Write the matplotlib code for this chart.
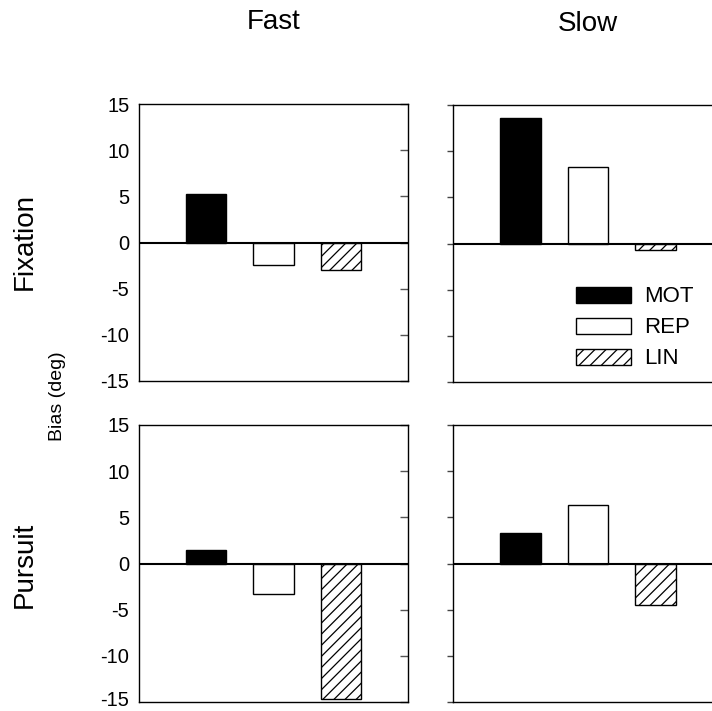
import matplotlib
matplotlib.use("Agg")
import matplotlib.pyplot as plt
import matplotlib.transforms as mtransforms

plt.rcParams["font.family"] = ["Liberation Sans", "DejaVu Sans"]
plt.rcParams["hatch.linewidth"] = 0.9

# bias (deg)
conditions = ["MOT", "REP", "LIN"]
fast_fixation = [5.25, -2.4, -2.95]
slow_fixation = [13.6, 8.3, -0.7]
fast_pursuit = [1.45, -3.35, -14.7]
slow_pursuit = [3.35, 6.3, -4.5]

col_titles = ["Fast", "Slow"]
row_titles = ["Fixation", "Pursuit"]
yticks = [-15, -10, -5, 0, 5, 10, 15]

fills = ["black", "white", "white"]
hatches = [None, None, "///"]


def draw_panel(ax, values, left_col):
    xs = range(1, len(values) + 1)
    bars = []
    for x, v, fc, h, lab in zip(xs, values, fills, hatches, conditions):
        b = ax.bar(x, v, width=0.6, color=fc, edgecolor="black",
                   linewidth=1.0, hatch=h, label=lab)
        bars.append(b)
    ax.axhline(0, color="black", linewidth=1.5, zorder=3)
    ax.set_xlim(0, 4)
    ax.set_ylim(-15, 15)
    ax.set_xticks([])
    ax.set_yticks(yticks)
    for s in ax.spines.values():
        s.set_linewidth(1.0)
    if left_col:
        ax.set_yticklabels([str(t) for t in yticks], fontsize=14.5)
        ax.tick_params(axis="y", left=False, right=True, direction="in",
                       length=6, width=1, color="#555555", pad=7)
    else:
        ax.set_yticklabels([])
        ax.tick_params(axis="y", left=True, direction="out",
                       length=4, width=1, color="#444444")
    return bars


fig = plt.figure(figsize=(7.12, 7.11), dpi=100)
W, H = 712, 711


def add_axes(x0, y0, x1, y1):
    return fig.add_axes([x0 / W, 1 - y1 / H, (x1 - x0) / W, (y1 - y0) / H])


ax_tl = add_axes(139, 104, 408, 381)
ax_tr = add_axes(453, 105, 723, 382)
ax_bl = add_axes(139, 425, 408, 702)
ax_br = add_axes(453, 425, 723, 702)

draw_panel(ax_tl, fast_fixation, True)
bars = draw_panel(ax_tr, slow_fixation, False)
draw_panel(ax_bl, fast_pursuit, True)
draw_panel(ax_br, slow_pursuit, False)

# lowest label of the bottom panel sits right at the figure edge; lift it a bit
low = ax_bl.get_yticklabels()[0]
low.set_transform(low.get_transform() +
                  mtransforms.ScaledTranslation(0, 2.5 / 72, fig.dpi_scale_trans))

ax_tr.legend(handles=bars, labels=conditions, loc="upper left",
             bbox_to_anchor=(0.455, 0.345), frameon=False, fontsize=16,
             handlelength=2.5, handleheight=0.75, labelspacing=0.45,
             handletextpad=0.55, borderpad=0, borderaxespad=0)

fig.text(274 / W, 1 - 22 / H, col_titles[0], fontsize=20, ha="center", va="center")
fig.text(588 / W, 1 - 24 / H, col_titles[1], fontsize=20, ha="center", va="center")
fig.text(25 / W, 1 - 242 / H, row_titles[0], fontsize=20, ha="center",
         va="center", rotation=90)
fig.text(25 / W, 1 - 565 / H, row_titles[1], fontsize=20, ha="center",
         va="center", rotation=90)
fig.text(58 / W, 1 - 396 / H, "Bias (deg)", fontsize=14, ha="center",
         va="center", rotation=90)

fig.savefig("out.png", dpi=100)
